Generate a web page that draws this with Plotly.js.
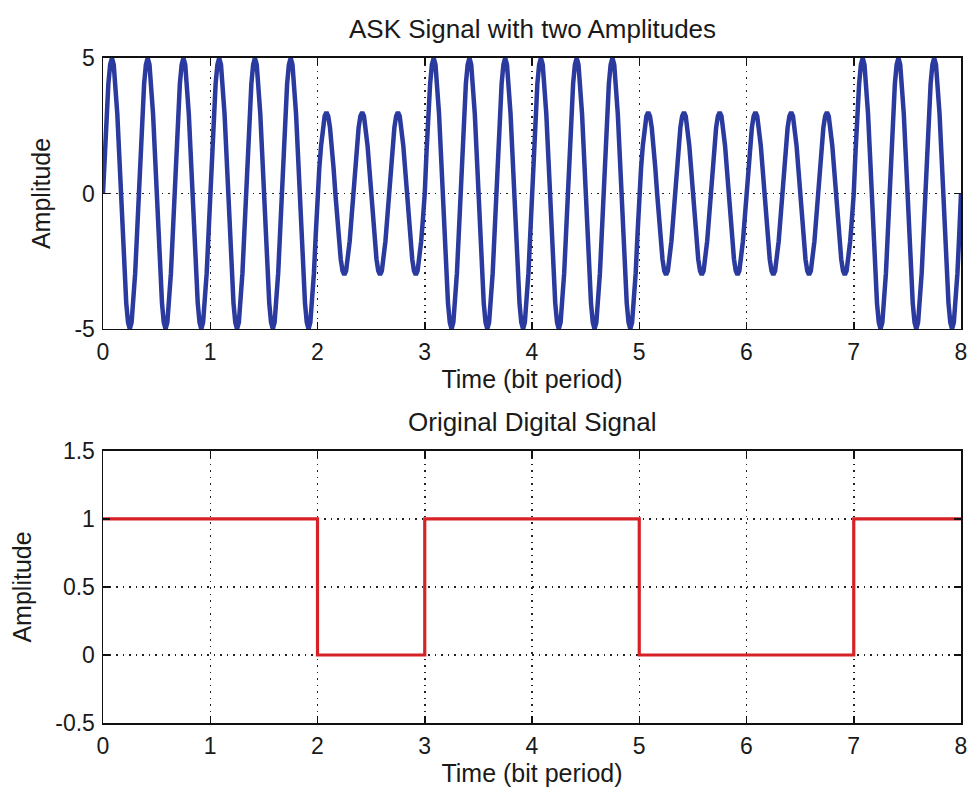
<!DOCTYPE html>
<html>
<head>
<meta charset="utf-8">
<script src="https://cdn.plot.ly/plotly-3.0.1.min.js"></script>
<style>html,body{margin:0;padding:0;background:#fff;}#chart{width:972px;height:792px;}</style>
</head>
<body>
<div id="chart"></div>
<script>
// ---- data ----
const bitTimes = [0, 1, 2, 3, 4, 5, 6, 7, 8];          // bit boundaries (bit periods)
const bitLevels = [1, 1, 0, 1, 1, 0, 0, 1, 1];          // original digital signal (last repeats for step end)
const askAmplitudes = [5, 5, 3, 5, 5, 3, 3, 5];         // carrier amplitude per bit (5 for "1", 3 for "0")
const cyclesPerBit = 3;                                 // carrier cycles in one bit period
const samplesPerBit = 60;

// ASK waveform: amplitude of each bit times the carrier
const askT = [], askY = [];
for (let b = 0; b < askAmplitudes.length; b++) {
  for (let s = 0; s < samplesPerBit; s++) {
    const t = b + s / samplesPerBit;
    askT.push(t);
    askY.push(askAmplitudes[b] * Math.sin(2 * Math.PI * cyclesPerBit * t));
  }
}
askT.push(askAmplitudes.length);
askY.push(askAmplitudes[askAmplitudes.length - 1] * Math.sin(2 * Math.PI * cyclesPerBit * askAmplitudes.length));

const font = {family: 'Liberation Sans, Arial, sans-serif', color: '#1a1a1a'};
const tickFont = Object.assign({size: 23}, font);
const labFont = Object.assign({size: 25}, font);
const axBase = {
  showline: true, linecolor: '#111', linewidth: 1.5, mirror: 'ticks',
  ticks: 'inside', ticklen: 7, tickwidth: 1.5, tickcolor: '#111',
  showgrid: true, gridcolor: '#222', gridwidth: 1.5, griddash: '1.5px,5px',
  zeroline: false, tickfont: tickFont, fixedrange: true
};

const traces = [
  {x: askT, y: askY, type: 'scatter', mode: 'lines', xaxis: 'x', yaxis: 'y',
   line: {color: '#2b3a9e', width: 4.5}, hoverinfo: 'skip'},
  {x: bitTimes, y: bitLevels, type: 'scatter', mode: 'lines', xaxis: 'x2', yaxis: 'y2',
   line: {color: '#d62226', width: 3.2, shape: 'hv'}, hoverinfo: 'skip'}
];

const layout = {
  width: 972, height: 792,
  margin: {l: 103, r: 11, t: 0, b: 0},
  paper_bgcolor: '#fff', plot_bgcolor: '#fff',
  showlegend: false, font: font,
  xaxis: Object.assign({}, axBase, {domain: [0, 1], anchor: 'y', range: [0, 8], dtick: 1, tick0: 0,
    ticklabelstandoff: 2,
    title: {text: 'Time (bit period)', font: labFont, standoff: 5}}),
  yaxis: Object.assign({}, axBase, {domain: [0.5846, 0.9268], anchor: 'x', range: [-5, 5],
    tickmode: 'array', tickvals: [-5, 0, 5], ticktext: ['-5', '0', '5'], ticklabelstandoff: 2,
    title: {text: 'Amplitude', font: labFont, standoff: 16}}),
  xaxis2: Object.assign({}, axBase, {domain: [0, 1], anchor: 'y2', range: [0, 8], dtick: 1, tick0: 0,
    ticklabelstandoff: 2,
    title: {text: 'Time (bit period)', font: labFont, standoff: 5}}),
  yaxis2: Object.assign({}, axBase, {domain: [0.0871, 0.4306], anchor: 'x2', range: [-0.5, 1.5],
    tickmode: 'array', tickvals: [-0.5, 0, 0.5, 1, 1.5], ticktext: ['-0.5', '0', '0.5', '1', '1.5'],
    ticklabelstandoff: 2,
    title: {text: 'Amplitude', font: labFont, standoff: 16}}),
  annotations: [
    {text: 'ASK Signal with two Amplitudes', xref: 'paper', yref: 'paper', x: 0.5, y: 1 - 29 / 792,
     xanchor: 'center', yanchor: 'middle', showarrow: false, font: Object.assign({size: 26}, font)},
    {text: 'Original Digital Signal', xref: 'paper', yref: 'paper', x: 0.5, y: 1 - 422 / 792,
     xanchor: 'center', yanchor: 'middle', showarrow: false, font: Object.assign({size: 26}, font)}
  ]
};

Plotly.newPlot('chart', traces, layout, {staticPlot: true, displayModeBar: false});
</script>
</body>
</html>
